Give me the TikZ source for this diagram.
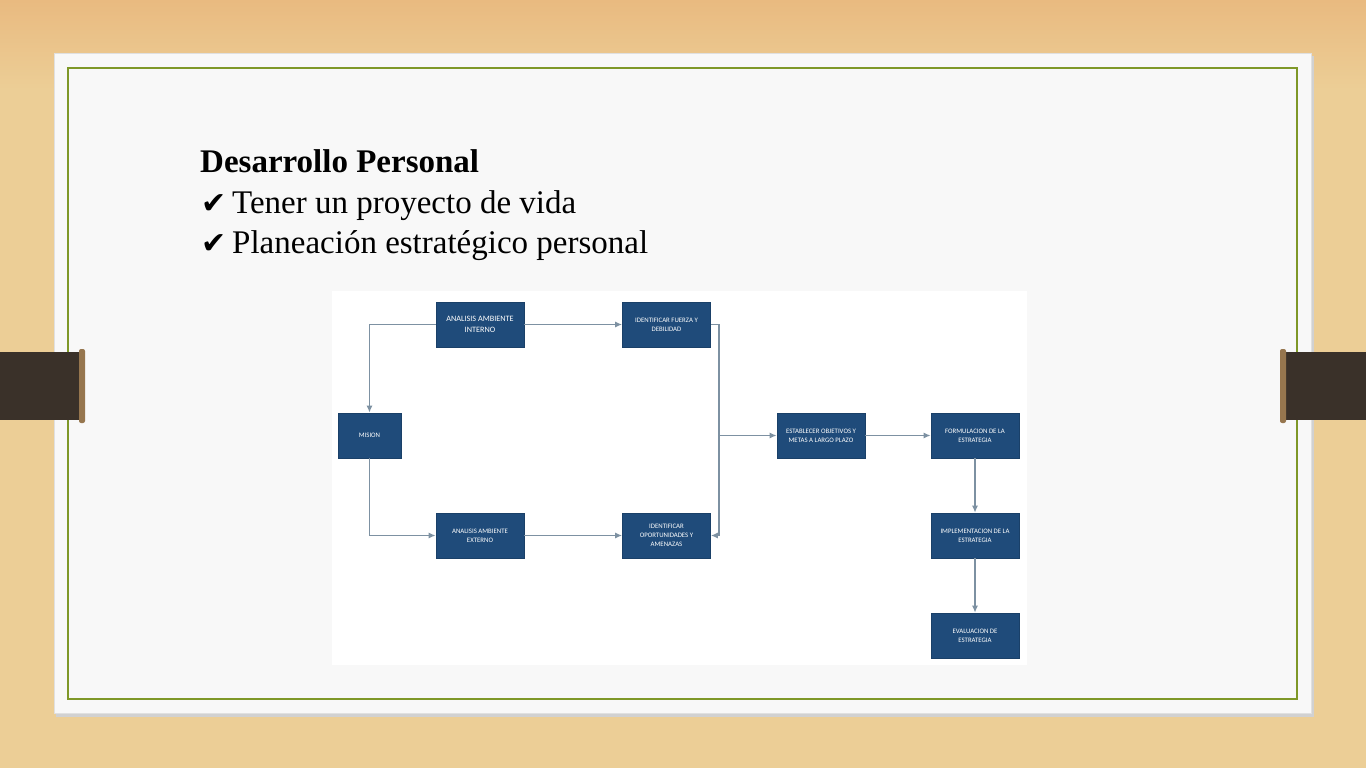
\documentclass[tikz,border=0pt]{standalone}
\usepackage{fontspec}
\setmainfont{Liberation Serif}
\newfontfamily\boxfont{Carlito}
\newfontfamily\symfont{DejaVu Sans}
\usetikzlibrary{positioning, arrows.meta}

\definecolor{wood}{RGB}{236,206,150}
\definecolor{woodtop}{RGB}{233,186,128}
\definecolor{card}{RGB}{248,248,248}
\definecolor{olive}{RGB}{127,152,40}
\definecolor{strap}{RGB}{58,49,41}
\definecolor{strapcap}{RGB}{150,118,78}
\definecolor{boxblue}{RGB}{31,75,122}
\definecolor{wire}{RGB}{125,145,162}

\newcommand{\tick}{\makebox[31pt][l]{\symfont\fontsize{30}{30}\selectfont ✔}}

\tikzset{
  stepbox/.style={fill=boxblue, draw=boxblue!85!black, line width=0.6pt, text=white,
    minimum width=88pt, minimum height=45pt, inner sep=1pt, align=center,
    font=\boxfont\fontsize{6.8}{9}\selectfont},
  wire/.style={draw=wire, line width=1.6pt},
  flow/.style={wire, -{Latex[length=7pt,width=6pt]}},
  slideline/.style={anchor=base west, inner sep=0pt, font=\fontsize{33}{40}\selectfont},
}

\begin{document}
\begin{tikzpicture}[x=1pt, y=-1pt]
\useasboundingbox (0,0) rectangle (1366,768);
% Wood background
\fill[wood] (0,0) rectangle (1366,768);
\shade[top color=woodtop, bottom color=wood] (0,0) rectangle (1366,90);
% Card with shadow
\fill[black!18] (56,56) rectangle (1314,717);
\fill[card, draw=black!12] (54,53) rectangle (1311,713);
\draw[olive, line width=2pt] (68,68) rectangle (1297,699);
% Straps
\fill[strap] (0,352) rectangle (82,420);
\fill[strapcap, rounded corners=2pt] (79,349) rectangle (85,423);
\fill[strap] (1284,352) rectangle (1366,420);
\fill[strapcap, rounded corners=2pt] (1280,349) rectangle (1286,423);

% Heading text
\node[slideline] (title) at (200,172) {\bfseries Desarrollo Personal};
\node[slideline] (item1) at (201,213) {\tick Tener un proyecto de vida};
\node[slideline] (item2) at (201,253) {\tick Planeación estratégico personal};

% Diagram panel
\fill[white] (332,291) rectangle (1027,665);

% Steps
\node[stepbox, font=\boxfont\fontsize{8.2}{10.5}\selectfont] (aai) at (480,324.5) {ANALISIS AMBIENTE\\INTERNO};
\node[stepbox] (ifd) at (666.5,324.5) {IDENTIFICAR FUERZA Y\\DEBILIDAD};
\node[stepbox, minimum width=63pt] (mision) at (369.5,435.5) {MISION};
\node[stepbox] (aae) at (480,535.5) {ANALISIS AMBIENTE\\EXTERNO};
\node[stepbox] (ioa) at (666.5,535.5) {IDENTIFICAR\\OPORTUNIDADES Y\\AMENAZAS};
\node[stepbox] (est) at (821,435.5) {ESTABLECER OBJETIVOS Y\\METAS A LARGO PLAZO};
\node[stepbox] (form) at (975,435.5) {FORMULACION DE LA\\ESTRATEGIA};
\node[stepbox] (impl) at (975,535.5) {IMPLEMENTACION DE LA\\ESTRATEGIA};
\node[stepbox] (eval) at (975,635.5) {EVALUACION DE\\ESTRATEGIA};
\coordinate (split) at (719,435.5);

% Connectors
\draw[flow] (aai.west) -| (mision.north);
\draw[flow] (mision.south) |- (aae.west);
\draw[flow] (aai.east) -- (ifd.west);
\draw[flow] (aae.east) -- (ioa.west);
\draw[wire] (ifd.east) -| (split);
\draw[flow] (split) -- (est.west);
\draw[flow] (split) |- (ioa.east);
\draw[flow] (est.east) -- (form.west);
\draw[flow] (form.south) -- (impl.north);
\draw[flow] (impl.south) -- (eval.north);
\end{tikzpicture}
\end{document}
